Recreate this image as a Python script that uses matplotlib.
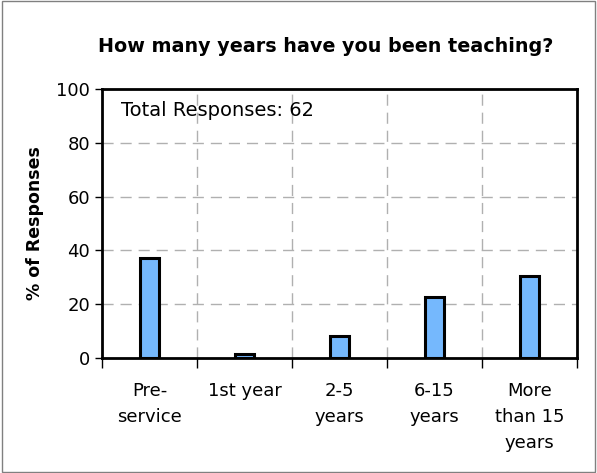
import numpy as np
from matplotlib import pyplot as plt

categories = ["Pre-\nservice", "1st year", "2-5\nyears", "6-15\nyears", "More\nthan 15\nyears"]
counts = [23, 1, 5, 14, 19]
total = 62
percent = [c / total * 100 for c in counts]
y_ticks = [0, 20, 40, 60, 80, 100]

fig = plt.figure(figsize=(5.97, 4.73), dpi=100)
ax = fig.add_axes([102 / 597, 1 - 358 / 473, 475 / 597, 269 / 473])

x = np.arange(len(categories)) + 0.5
ax.bar(x, percent, width=0.21, color='#75b8fd', edgecolor='black', linewidth=2.2, zorder=3)

ax.set_xlim(0, len(categories))
ax.set_ylim(0, 100)
ax.set_yticks(y_ticks)
ax.set_xticks(np.arange(len(categories) + 1))
ax.set_xticklabels([])
ax.set_xticks(x, minor=True)
ax.set_xticklabels(categories, minor=True, fontsize=13, linespacing=1.6)
ax.tick_params(axis='x', which='minor', length=0, pad=17)
ax.tick_params(axis='x', which='major', length=7, width=1, direction='out')
ax.tick_params(axis='y', length=5, width=1, direction='out', labelsize=13)

ax.grid(True, which='major', color='#b0b0b0', linestyle=(0, (8, 5)), linewidth=1, zorder=0)
for side in ax.spines.values():
    side.set_linewidth(2)

ax.text(0.2, 92, "Total Responses: 62", fontsize=14, va='center', ha='left')
fig.text(326 / 597, 1 - 47 / 473, "How many years have you been teaching?",
         fontsize=13.8, fontweight='bold', ha='center', va='center')
ax.set_ylabel("% of Responses", fontsize=12.5, fontweight='bold', labelpad=9)

fig.patches.append(plt.Rectangle((0.003, 0.003), 0.994, 0.994, transform=fig.transFigure,
                                 fill=False, edgecolor='#808080', linewidth=1))

fig.savefig('out.png', dpi=100)
